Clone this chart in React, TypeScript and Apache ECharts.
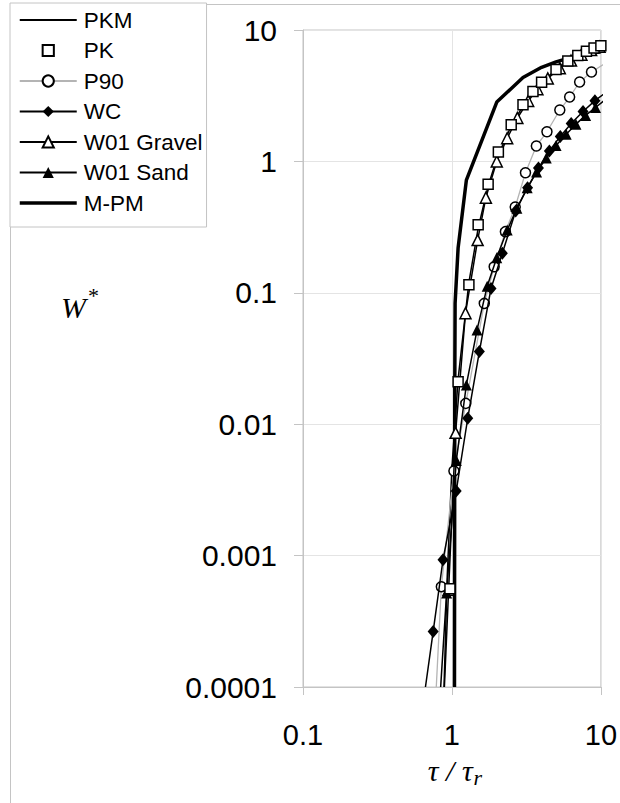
import React, { useEffect, useRef } from "react";
import * as echarts from "echarts";

const xTickLabels = ["0.1", "1", "10"];
const yTickLabels = ["0.0001", "0.001", "0.01", "0.1", "1", "10"];

const seriesNames = ["PKM", "PK", "P90", "WC", "W01 Gravel", "W01 Sand", "M-PM"];

const pkmPhi = [0.885, 0.93, 1.0, 1.1, 1.3, 1.5, 1.75, 2, 2.5, 3, 3.5, 4, 5, 6, 7, 8, 9, 10, 10.8];
const pkmW = [0.0001, 0.0007, 0.0047, 0.022, 0.12, 0.31, 0.65, 1.05, 1.86, 2.65, 3.36, 3.98, 4.99, 5.77, 6.38, 6.88, 7.28, 7.61, 7.84];

const pkPhi = [0.97, 1.1, 1.3, 1.5, 1.75, 2.05, 2.5, 3, 3.5, 4, 5, 6, 7, 8, 9, 10];
const pkW = [0.00056, 0.021, 0.115, 0.33, 0.67, 1.18, 1.9, 2.7, 3.4, 4.0, 5.0, 5.8, 6.4, 6.9, 7.3, 7.6];

const p90Phi = [0.785, 0.849, 1.031, 1.239, 1.649, 1.921, 2.285, 2.66, 3.117, 3.688, 4.345, 5.3, 6.17, 7.2, 8.65, 11];
const p90W = [0.0001, 0.00058, 0.0044, 0.0144, 0.083, 0.158, 0.292, 0.45, 0.82, 1.31, 1.68, 2.46, 3.09, 4.02, 4.79, 5.7];

const wcPhi = [0.664, 0.748, 0.871, 1.068, 1.277, 1.528, 1.83, 2.18, 2.68, 3.22, 3.81, 4.51, 5.34, 6.32, 7.59, 9.12, 11.4];
const wcW = [0.0001, 0.000264, 0.00093, 0.0031, 0.0111, 0.0357, 0.108, 0.2, 0.42, 0.63, 0.89, 1.2, 1.55, 1.94, 2.4, 2.9, 3.5];

const gravelPhi = [0.89, 0.95, 1.058, 1.233, 1.488, 1.69, 2.0, 2.35, 2.75, 3.25, 3.75, 4.4, 5.3, 6.3, 7.4, 8.6, 9.8, 10.8];
const gravelW = [0.0001, 0.00055, 0.0086, 0.07, 0.252, 0.53, 1.0, 1.5, 2.14, 2.88, 3.54, 4.28, 5.12, 5.85, 6.49, 7.03, 7.46, 7.76];

const sandPhi = [0.84, 0.921, 1.07, 1.25, 1.473, 1.724, 2.0, 2.35, 2.73, 3.2, 3.7, 4.3, 5.0, 5.85, 6.8, 7.9, 9.2, 10.6];
const sandW = [0.0001, 0.00052, 0.0053, 0.0199, 0.052, 0.112, 0.185, 0.3, 0.44, 0.63, 0.83, 1.06, 1.32, 1.61, 1.92, 2.24, 2.57, 2.92];

const mpmPhi = [1.04, 1.045, 1.05, 1.1, 1.25, 2, 3, 4, 5, 6, 7, 8, 9, 10];
const mpmW = [0.0001, 0.02, 0.083, 0.219, 0.72, 2.83, 4.35, 5.2, 5.72, 6.09, 6.35, 6.55, 6.7, 6.83];

// build points; ends of lines that only mark where a curve leaves the plot carry no marker
function pts(xs: number[], ys: number[], hideFirst: boolean, hideLast: boolean) {
  return xs.map((x, i) => {
    const hide = (hideFirst && i === 0) || (hideLast && i === xs.length - 1);
    return hide ? { value: [x, ys[i]], symbol: "none" } : { value: [x, ys[i]] };
  });
}

const FONT = "Liberation Sans, Arial, sans-serif";
const SERIF = "Liberation Serif, Times New Roman, serif";
const GRID_LEFT = 303;
const GRID_TOP = 30;
const GRID_RIGHT = 604;
const GRID_BOTTOM = 687;

function labelFor(v: number, labels: string[]) {
  let best = labels[0];
  let bd = Infinity;
  for (const l of labels) {
    const d = Math.abs(Math.log10(parseFloat(l)) - Math.log10(v));
    if (d < bd) {
      bd = d;
      best = l;
    }
  }
  return best;
}

export default function App() {
  const ref = useRef<HTMLDivElement>(null);
  useEffect(() => {
    if (!ref.current) return;
    const chart = echarts.init(ref.current, undefined, { renderer: "svg" });
    const black = "#000000";
    const openItem = { color: "#ffffff", borderColor: black, borderWidth: 1.5 };
    const option: any = {
      animation: false,
      backgroundColor: "#ffffff",
      grid: {
        left: GRID_LEFT,
        top: GRID_TOP,
        width: GRID_RIGHT - GRID_LEFT,
        height: GRID_BOTTOM - GRID_TOP,
        show: true,
        borderColor: "#c4c4c4",
        borderWidth: 1,
        backgroundColor: "transparent",
      },
      xAxis: {
        type: "log",
        logBase: 10,
        min: 0.1,
        max: 10,
        axisLine: { show: true, lineStyle: { color: "#c4c4c4", width: 1 } },
        axisTick: { show: true, length: 8, lineStyle: { color: "#c4c4c4" } },
        splitLine: { show: true, lineStyle: { color: "#e4e4e4", width: 1 } },
        axisLabel: {
          margin: 33,
          fontFamily: FONT,
          fontSize: 29,
          color: "#000",
          formatter: (v: number) => labelFor(v, xTickLabels),
        },
      },
      yAxis: {
        type: "log",
        logBase: 10,
        min: 0.0001,
        max: 10,
        axisLine: { show: true, lineStyle: { color: "#c4c4c4", width: 1 } },
        axisTick: { show: true, length: 9, lineStyle: { color: "#c4c4c4" } },
        splitLine: { show: true, lineStyle: { color: "#e4e4e4", width: 1 } },
        axisLabel: {
          margin: 26,
          fontFamily: FONT,
          fontSize: 30,
          color: "#000",
          formatter: (v: number) => labelFor(v, yTickLabels),
        },
      },
      legend: {
        orient: "vertical",
        left: 10,
        top: 3,
        padding: [5, 4, 12, 8],
        itemWidth: 57,
        itemHeight: 14,
        itemGap: 6.5,
        backgroundColor: "#ffffff",
        borderColor: "#c4c4c4",
        borderWidth: 1,
        textStyle: { fontFamily: FONT, fontSize: 22.5, color: "#000", lineHeight: 24, padding: [0, 0, 0, 2] },
        data: seriesNames.map((n) =>
          n === "M-PM" ? { name: n, lineStyle: { width: 3.5, color: black } } : { name: n }
        ),
      },
      graphic: [
        {
          type: "rect",
          z: -10,
          silent: true,
          shape: { x: 10.5, y: 4.5, width: 700, height: 900 },
          style: { fill: "none", stroke: "#c4c4c4", lineWidth: 1 },
        },
        {
          type: "text",
          left: 61,
          top: 284,
          style: {
            text: "{w|W}{s|*}",
            rich: {
              w: { fontFamily: SERIF, fontStyle: "italic", fontSize: 30, fill: "#000", verticalAlign: "bottom" },
              s: { fontFamily: SERIF, fontSize: 22, fill: "#000", padding: [0, 0, 16, 2], verticalAlign: "top" },
            },
          },
        },
        {
          type: "text",
          x: 455,
          y: 770,
          style: {
            text: "{t|τ / τ}{r|r}",
            align: "center",
            verticalAlign: "middle",
            rich: {
              t: { fontFamily: SERIF, fontStyle: "italic", fontSize: 30, fill: "#000" },
              r: { fontFamily: SERIF, fontStyle: "italic", fontSize: 22, fill: "#000", padding: [14, 0, 0, 1] },
            },
          },
        },
      ],
      series: [
        {
          name: "PKM",
          type: "line",
          clip: false,
          data: pts(pkmPhi, pkmW, false, false),
          symbol: "circle",
          showSymbol: false,
          itemStyle: { color: black, opacity: 0 },
          lineStyle: { color: black, width: 1.5 },
          z: 2,
        },
        {
          name: "PK",
          type: "line",
          clip: false,
          data: pts(pkPhi, pkW, false, false),
          symbol: "rect",
          symbolSize: 10,
          itemStyle: openItem,
          lineStyle: { color: black, width: 1.5, opacity: 0 },
          z: 5,
        },
        {
          name: "P90",
          type: "line",
          clip: false,
          data: pts(p90Phi, p90W, true, true),
          symbol: "circle",
          symbolSize: 10,
          itemStyle: openItem,
          lineStyle: { color: "#b4b4b4", width: 1.3 },
          z: 3,
        },
        {
          name: "WC",
          type: "line",
          clip: false,
          data: pts(wcPhi, wcW, true, true),
          symbol: "diamond",
          symbolSize: [11, 13],
          itemStyle: { color: black },
          lineStyle: { color: black, width: 1.5 },
          z: 4,
        },
        {
          name: "W01 Gravel",
          type: "line",
          clip: false,
          data: pts(gravelPhi, gravelW, true, true),
          symbol: "triangle",
          symbolSize: 11,
          itemStyle: openItem,
          lineStyle: { color: black, width: 1.5 },
          z: 4,
        },
        {
          name: "W01 Sand",
          type: "line",
          clip: false,
          data: pts(sandPhi, sandW, true, true),
          symbol: "triangle",
          symbolSize: 11,
          itemStyle: { color: black },
          lineStyle: { color: black, width: 1.5 },
          z: 4,
        },
        {
          name: "M-PM",
          type: "line",
          clip: false,
          data: pts(mpmPhi, mpmW, false, false),
          symbol: "circle",
          showSymbol: false,
          itemStyle: { color: black, opacity: 0 },
          lineStyle: { color: black, width: 3.5 },
          z: 3,
        },
      ],
    };
    chart.setOption(option);
    return () => chart.dispose();
  }, []);
  return (
    <div
      ref={ref}
      style={{ position: "fixed", left: 0, top: 0, width: 620, height: 803, background: "#fff" }}
    />
  );
}
